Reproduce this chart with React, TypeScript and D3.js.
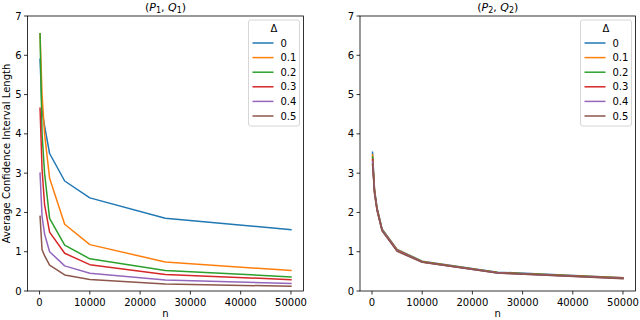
import React from "react";
import * as d3 from "d3";

const nValues = [100, 500, 1000, 2000, 5000, 10000, 25000, 50000];
const deltas = ["0", "0.1", "0.2", "0.3", "0.4", "0.5"];
const colors = ["#1f77b4", "#ff7f0e", "#2ca02c", "#d62728", "#9467bd", "#8c564b"];

const left0 = [5.9, 4.6, 4.2, 3.5, 2.8, 2.37, 1.85, 1.56];
const left1 = [6.55, 5.0, 4.0, 2.87, 1.7, 1.18, 0.74, 0.52];
const left2 = [6.55, 4.0, 3.0, 1.85, 1.17, 0.82, 0.52, 0.36];
const left3 = [4.65, 3.1, 2.2, 1.5, 0.96, 0.67, 0.42, 0.29];
const left4 = [3.0, 1.9, 1.45, 1.0, 0.64, 0.45, 0.28, 0.19];
const left5 = [1.9, 1.05, 0.9, 0.66, 0.41, 0.29, 0.18, 0.12];

const right0 = [3.53, 2.58, 2.12, 1.58, 1.06, 0.76, 0.48, 0.34];
const right1 = [3.47, 2.56, 2.1, 1.57, 1.05, 0.75, 0.47, 0.335];
const right2 = [3.41, 2.54, 2.09, 1.56, 1.04, 0.745, 0.47, 0.33];
const right3 = [3.35, 2.52, 2.08, 1.55, 1.03, 0.74, 0.465, 0.325];
const right4 = [3.29, 2.5, 2.06, 1.54, 1.02, 0.735, 0.46, 0.32];
const right5 = [3.23, 2.48, 2.05, 1.53, 1.01, 0.73, 0.455, 0.315];

const xTicks = [0, 10000, 20000, 30000, 40000, 50000];
const yTicks = [0, 1, 2, 3, 4, 5, 6, 7];

const leftSeries = [left0, left1, left2, left3, left4, left5];
const rightSeries = [right0, right1, right2, right3, right4, right5];

const FONT = "DejaVu Sans, sans-serif";

function Panel({ x0, x1, series, sub, showYLabel }: { x0: number; x1: number; series: number[][]; sub: string; showYLabel: boolean }) {
  const top = 16;
  const bottom = 291;
  const pad = (50000 - 100) * 0.05;
  const x = d3.scaleLinear().domain([100 - pad, 50000 + pad]).range([x0, x1]);
  const y = d3.scaleLinear().domain([0, 7]).range([bottom, top]);
  const line = d3
    .line<number>()
    .x((_, i) => x(nValues[i]))
    .y((d) => y(d));
  const cx = (x0 + x1) / 2;
  const lgRight = x1 - 4;
  const lgLeft = lgRight - 51;
  const lgTop = 20;
  return (
    <g>
      <defs>
        <clipPath id={"clip" + sub}>
          <rect x={x0} y={top} width={x1 - x0} height={bottom - top} />
        </clipPath>
      </defs>
      <g clipPath={`url(#clip${sub})`}>
        {series.map((s, i) => (
          <path key={i} d={line(s) || ""} fill="none" stroke={colors[i]} strokeWidth={1.5} strokeLinejoin="round" strokeLinecap="square" />
        ))}
      </g>
      <rect x={x0} y={top} width={x1 - x0} height={bottom - top} fill="none" stroke="#000" strokeWidth={0.8} />
      {xTicks.map((t) => (
        <g key={t}>
          <line x1={x(t)} x2={x(t)} y1={bottom} y2={bottom + 3.5} stroke="#000" strokeWidth={0.8} />
          <text x={x(t)} y={bottom + 15} textAnchor="middle" fontSize={10} fontFamily={FONT}>
            {t}
          </text>
        </g>
      ))}
      {yTicks.map((t) => (
        <g key={t}>
          <line x1={x0 - 3.5} x2={x0} y1={y(t)} y2={y(t)} stroke="#000" strokeWidth={0.8} />
          <text x={x0 - 6} y={y(t) + 3.5} textAnchor="end" fontSize={10} fontFamily={FONT}>
            {t}
          </text>
        </g>
      ))}
      <text x={cx} y={317} textAnchor="middle" fontSize={10} fontFamily={FONT}>
        n
      </text>
      <text x={cx} y={11} textAnchor="middle" fontSize={11} fontFamily={FONT}>
        (<tspan fontStyle="italic">P</tspan>
        <tspan fontSize={8} dy={2}>{sub}</tspan>
        <tspan dy={-2}>, </tspan>
        <tspan fontStyle="italic">Q</tspan>
        <tspan fontSize={8} dy={2}>{sub}</tspan>
        <tspan dy={-2}>)</tspan>
      </text>
      {showYLabel && (
        <text transform={`translate(9.5,${(top + bottom) / 2}) rotate(-90)`} textAnchor="middle" fontSize={10} fontFamily={FONT}>
          Average Confidence Interval Length
        </text>
      )}
      <rect x={lgLeft} y={lgTop} width={51} height={106} rx={2} fill="#fff" fillOpacity={0.8} stroke="#cccccc" strokeWidth={0.8} />
      <text x={lgLeft + 25.5} y={lgTop + 12} textAnchor="middle" fontSize={10} fontFamily={FONT}>
        Δ
      </text>
      {deltas.map((d, i) => {
        const yy = 43 + i * 14.6;
        return (
          <g key={d}>
            <line x1={lgLeft + 4} x2={lgLeft + 25} y1={yy} y2={yy} stroke={colors[i]} strokeWidth={1.5} />
            <text x={lgLeft + 32} y={yy + 3.5} fontSize={10} fontFamily={FONT}>
              {d}
            </text>
          </g>
        );
      })}
    </g>
  );
}

export default function App() {
  return (
    <svg width={640} height={320} style={{ position: "absolute", left: 0, top: 0 }}>
      <rect width={640} height={320} fill="#fff" />
      <Panel x0={27.5} x1={303.5} series={leftSeries} sub="1" showYLabel={true} />
      <Panel x0={360} x1={635.5} series={rightSeries} sub="2" showYLabel={false} />
    </svg>
  );
}
